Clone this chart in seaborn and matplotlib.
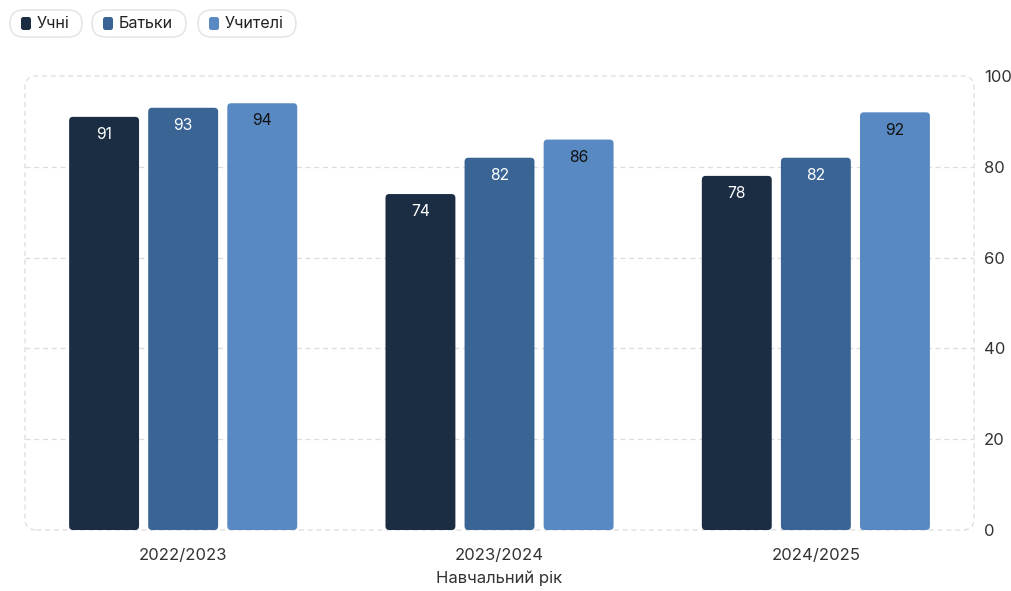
import matplotlib
matplotlib.use("Agg")
import matplotlib.pyplot as plt
from matplotlib.patches import FancyBboxPatch
import seaborn as sns
import pandas as pd

years = ["2022/2023", "2023/2024", "2024/2025"]
groups = ["Учні", "Батьки", "Учителі"]
pupils = [91, 74, 78]
parents = [93, 82, 82]
teachers = [94, 86, 92]
y_ticks = [0, 20, 40, 60, 80, 100]
x_label = "Навчальний рік"

colors = ["#1b2d42", "#3a6494", "#5989c2"]
label_colors = ["white", "white", "#111111"]

rows = []
for g, vals in zip(groups, [pupils, parents, teachers]):
    for y, v in zip(years, vals):
        rows.append({"year": y, "group": g, "value": v})
df = pd.DataFrame(rows)

sns.set_theme(style="white")
plt.rcParams["font.family"] = ["Inter", "DejaVu Sans"]

fig = plt.figure(figsize=(10.12, 5.91), dpi=100)
ax = fig.add_axes([0.0247, 0.1032, 0.9378, 0.7682])

sns.barplot(data=df, x="year", y="value", hue="group", order=years,
            hue_order=groups, palette=colors, width=0.75, gap=0.116,
            saturation=1, ax=ax, legend=False, errorbar=None)

ax.set_xlim(-0.5, 2.5)
ax.set_ylim(0, 100)

# labels and rounded bars
bars = list(ax.patches)
for i, p in enumerate(bars):
    gi = i // len(years)
    x0, w, h = p.get_x(), p.get_width(), p.get_height()
    ax.text(x0 + w / 2, h - 3.9, f"{h:.0f}", ha="center", va="center",
            fontsize=11.3, color=label_colors[gi])
    fc = p.get_facecolor()
    p.remove()
    rb = FancyBboxPatch((x0, 0), w, h,
                        boxstyle="round,pad=0,rounding_size=0.012",
                        mutation_aspect=72, facecolor=fc, edgecolor="none",
                        zorder=2)
    ax.add_patch(rb)

for s in ax.spines.values():
    s.set_visible(False)

for yv in y_ticks[1:-1]:
    ax.axhline(yv, color="#dcdcdc", lw=0.9, ls=(0, (4, 3)), zorder=0)

border = FancyBboxPatch((0, 0), 1, 1, transform=ax.transAxes,
                        boxstyle="round,pad=0,rounding_size=0.012",
                        mutation_aspect=2.05,
                        facecolor="none", edgecolor="#dcdcdc", lw=0.9,
                        ls=(0, (4, 3)), zorder=0, clip_on=False)
ax.add_patch(border)

ax.yaxis.tick_right()
ax.set_yticks(y_ticks)
ax.tick_params(axis="y", length=0, pad=7, labelsize=12, labelcolor="#333333")
ax.tick_params(axis="x", length=7, width=0.9, color="#dcdcdc", pad=6,
               labelsize=12, labelcolor="#333333")
ax.set_xlabel(x_label, fontsize=12, color="#333333", labelpad=5)
ax.set_ylabel("")

# legend pills
lx = [10, 92, 198]
lw_ = [72, 94, 98]
W, H = 1012, 591
for g, c, x, w in zip(groups, colors, lx, lw_):
    pill = FancyBboxPatch((x / W, (H - 37) / H), w / W, 27 / H,
                          boxstyle="round,pad=0,rounding_size=0.0135",
                          mutation_aspect=W / H,
                          transform=fig.transFigure, facecolor="white",
                          edgecolor="#e2e2e2", lw=1)
    fig.patches.append(pill)
    sq = FancyBboxPatch(((x + 11) / W, (H - 30) / H), 10 / W, 13 / H,
                        boxstyle="round,pad=0,rounding_size=0.0025",
                        mutation_aspect=W / H,
                        transform=fig.transFigure, facecolor=c,
                        edgecolor="none")
    fig.patches.append(sq)
    fig.text((x + 27) / W, (H - 23.5) / H, g, ha="left", va="center",
             fontsize=11.6, color="#222222")

fig.savefig("out.png", dpi=100, facecolor="white")
